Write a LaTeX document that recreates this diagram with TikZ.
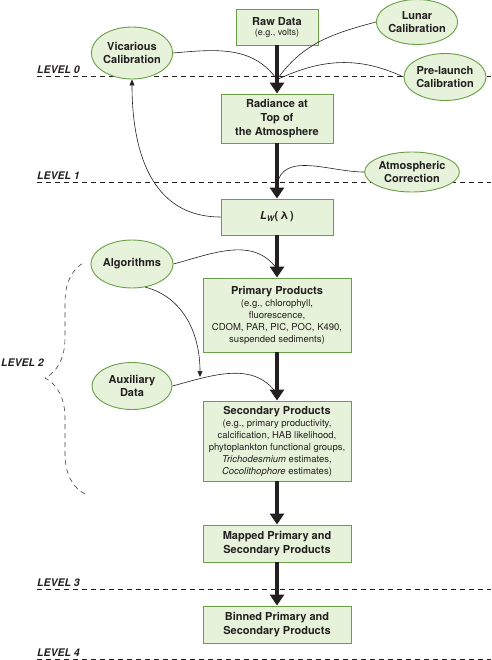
\documentclass[tikz,border=0pt]{standalone}
\usepackage{fontspec}
\setmainfont{TeX Gyre Heros}
\usetikzlibrary{
    arrows.meta,
    shapes.geometric,
    decorations.pathreplacing
}
\definecolor{boxfill}{HTML}{E6F2DA}
\definecolor{boxline}{HTML}{6A9E48}
\definecolor{ink}{HTML}{231F20}
\tikzset{
    % Thick processing arrow:
    flow/.style = {
        draw = ink,
        line width = 3.6pt,
        -{Triangle[length=11pt, width=14pt]}
    },
    % Thin input curve:
    feed/.style = {
        draw = ink,
        line width = 0.6pt
    },
    feed arrow/.style = {
        feed,
        -{Triangle[length=6pt, width=5pt]}
    },
    % Data product:
    data node/.style = {
        rectangle,
        draw = boxline,
        fill = boxfill,
        line width = 0.9pt,
        inner sep = 0pt,
        align = center,
        text = ink,
        font = \fontsize{9.5}{12}\selectfont
    },
    % Calibration or input:
    input node/.style = {
        data node,
        ellipse,
        font = \fontsize{11}{13}\selectfont\bfseries
    },
    % Processing level:
    level line/.style = {
        draw = ink,
        line width = 0.7pt,
        dash pattern = on 5pt off 4pt
    },
    level label/.style = {
        anchor = south west,
        inner xsep = 0pt,
        inner ysep = 2.5pt,
        text = ink,
        font = \fontsize{10.5}{12}\selectfont\bfseries\itshape
    }
}
\newcommand{\heading}[1]{{\fontsize{11}{13}\selectfont\bfseries #1}}

\begin{document}
\begin{tikzpicture}[x=1pt, y=1pt]
    \useasboundingbox (0, 0) rectangle (491, -660);
    % Levels.
    \draw [level line] (37, -76) -- (491, -76);
    \draw [level line] (37, -182) -- (491, -182);
    \draw [level line] (37, -589) -- (491, -589);
    \draw [level line] (37, -659) -- (491, -659);
    \node [level label] (lev0) at (37, -76) {LEVEL 0};
    \node [level label] (lev1) at (37, -182) {LEVEL 1};
    \node [level label] (lev3) at (37, -589) {LEVEL 3};
    \node [level label] (lev4) at (37, -659) {LEVEL 4};
    \node [level label, anchor=west] (lev2) at (1, -363) {LEVEL 2};
    \draw [draw=ink!85, line width=0.6pt, dash pattern=on 5pt off 4pt,
        decorate, decoration={brace, amplitude=40pt}]
        (85, -494) -- (85, -262);
    % Products.
    \node [data node, minimum width=82pt, minimum height=36pt] (raw) at (277, -27)
        {\heading{Raw Data}\\[-2pt]{\fontsize{9}{10}\selectfont(e.g., volts)}};
    \node [data node, minimum width=112pt, minimum height=49pt,
        font=\fontsize{11}{14}\selectfont\bfseries] (toa) at (277, -118.5)
        {Radiance at\\Top of\\the Atmosphere};
    \node [data node, minimum width=112pt, minimum height=36pt,
        font=\fontsize{11}{13}\selectfont\bfseries] (lw) at (277, -217)
        {{\itshape L\textsubscript{W}}(\,λ\,)};
    \node [data node, minimum width=148pt, minimum height=74pt] (prim) at (277, -315)
        {\heading{Primary Products}\\(e.g., chlorophyll,\\fluorescence,\\CDOM, PAR, PIC, POC, K490,\\suspended sediments)};
    \node [data node, minimum width=148pt, minimum height=80pt] (sec) at (277, -441)
        {\heading{Secondary Products}\\(e.g., primary productivity,\\calcification, HAB likelihood,\\phytoplankton functional groups,\\\textit{Trichodesmium} estimates,\\\textit{Cocolithophore} estimates)};
    \node [data node, minimum width=148pt, minimum height=37pt,
        font=\fontsize{11}{14}\selectfont\bfseries] (map) at (277, -543.5)
        {Mapped Primary and\\Secondary Products};
    \node [data node, minimum width=148pt, minimum height=37pt,
        font=\fontsize{11}{14}\selectfont\bfseries] (bin) at (277, -624.5)
        {Binned Primary and\\Secondary Products};
    % Inputs.
    \node [input node, minimum width=80pt, minimum height=52pt] (vic) at (132, -53) {Vicarious\\Calibration};
    \node [input node, minimum width=80pt, minimum height=45pt] (lun) at (417, -22) {Lunar\\Calibration};
    \node [input node, minimum width=82pt, minimum height=47pt] (pre) at (445, -77) {Pre-launch\\Calibration};
    \node [input node, minimum width=72pt, minimum height=40pt] (atm) at (412, -172) {Atmospheric\\Correction};
    \node [input node, minimum width=80pt, minimum height=48pt] (alg) at (132, -264) {Algorithms};
    \node [input node, minimum width=80pt, minimum height=47pt] (aux) at (132, -386) {Auxiliary\\Data};
    % Processing chain.
    \draw [flow] (raw) -- coordinate [pos=0.71] (j0) (toa);
    \draw [flow] (toa) -- coordinate [pos=0.75] (j1) (lw);
    \draw [flow] (lw) -- coordinate [pos=0.8] (j2) (prim);
    \draw [flow] (prim) -- coordinate [pos=0.86] (j3) (sec);
    \draw [flow] (sec) -- (map);
    \draw [flow] (map) -- (bin);
    % Inputs joining the chain.
    \draw [feed] (vic.east) to [out=5, in=125] (j0);
    \draw [feed] (lun.west) to [out=195, in=55] (j0);
    \draw [feed] (pre.west) to [out=155, in=25] (j0);
    \draw [feed] (atm.west) to [out=180, in=80] (j1);
    \draw [feed arrow] (lw.west) to [out=180, in=-90, looseness=1.1] (vic.south);
    \draw [feed] (alg.east) to [out=15, in=125] (j2);
    \coordinate (auxin) at (200, -377);
    \draw [feed arrow] (alg.-60) to [out=-15, in=90] (auxin);
    \draw [feed] (aux.east) to [out=15, in=125] (j3);
\end{tikzpicture}
\end{document}
